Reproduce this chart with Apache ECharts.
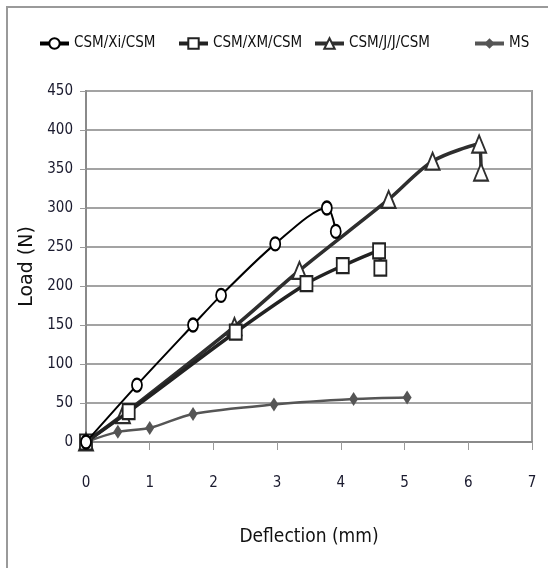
<!DOCTYPE html>
<html>
<head>
<meta charset="utf-8">
<script src="https://cdn.jsdelivr.net/npm/echarts@6/dist/echarts.min.js"></script>
<style>
  html, body { margin: 0; padding: 0; background: #fff; }
  #chart { width: 548px; height: 568px; }
</style>
</head>
<body>
<div id="chart"></div>
<script>
// deflection (mm), load (N)
const xiData = [[0, 0], [0.8, 73], [1.68, 150], [2.12, 188], [2.97, 254], [3.78, 300], [3.92, 270]]
const xmData = [[0, 0], [0.67, 39], [2.35, 141], [3.46, 203], [4.03, 226], [4.6, 245], [4.62, 223]]
const jjData = [[0, 0], [0.58, 35], [2.33, 148], [3.35, 220], [4.75, 311], [5.44, 360], [6.17, 382], [6.2, 346]]
const msData = [[0, 0], [0.5, 13], [1.0, 18], [1.68, 36], [2.95, 48], [4.2, 55], [5.04, 57]]
const seriesNames = ['CSM/Xi/CSM', 'CSM/XM/CSM', 'CSM/J/J/CSM', 'MS']
const legendLeft = [38, 177, 313, 473]

const narrow = "'DejaVu Sans Condensed', 'Liberation Sans Narrow', 'Liberation Sans', sans-serif"
const chart = echarts.init(document.getElementById('chart'))

const legends = seriesNames.map((name, i) => ({
  data: [name],
  top: 36,
  left: legendLeft[i],
  padding: 0,
  itemWidth: 29,
  itemHeight: 13,
  itemGap: 0,
  lineStyle: { width: 4 },
  textStyle: { fontFamily: narrow, fontSize: 15, color: '#111' }
}))

const option = {
  animation: false,
  backgroundColor: '#fff',
  graphic: [
    {
      type: 'rect',
      shape: { x: 7, y: 7, width: 600, height: 600 },
      style: { fill: 'none', stroke: '#9a9a9a', lineWidth: 2 },
      silent: true
    }
  ],
  legend: legends,
  grid: {
    left: 86,
    right: 16,
    top: 91,
    bottom: 126,
    show: true,
    borderColor: '#9a9a9a',
    borderWidth: 2
  },
  xAxis: {
    type: 'value',
    min: 0,
    max: 7,
    interval: 1,
    name: 'Deflection (mm)',
    nameLocation: 'middle',
    nameGap: 86,
    nameTextStyle: { fontFamily: narrow, fontSize: 19, color: '#111' },
    axisLine: { show: true, lineStyle: { color: '#8a8a8a', width: 2 } },
    axisTick: { show: true, length: 8, lineStyle: { color: '#9a9a9a', width: 1 } },
    axisLabel: { fontFamily: narrow, fontSize: 15, color: '#1a1a2e', margin: 34 },
    splitLine: { show: false }
  },
  yAxis: {
    type: 'value',
    min: 0,
    max: 450,
    interval: 50,
    name: 'Load (N)',
    nameLocation: 'middle',
    nameGap: 48,
    nameTextStyle: { fontFamily: 'DejaVu Sans, Verdana, sans-serif', fontSize: 19, color: '#111' },
    axisLine: { show: true, lineStyle: { color: '#8a8a8a', width: 2 } },
    axisTick: { show: true, length: 6, lineStyle: { color: '#9a9a9a', width: 1 } },
    axisLabel: { fontFamily: narrow, fontSize: 15, color: '#1a1a2e', margin: 13 },
    splitLine: { lineStyle: { color: '#a3a3a3', width: 2 } }
  },
  series: [
    {
      name: 'CSM/Xi/CSM',
      type: 'line',
      data: xiData,
      smooth: 0.3,
      symbol: 'emptyCircle',
      symbolSize: [10, 13],
      z: 5,
      lineStyle: { color: '#000', width: 2 },
      itemStyle: { color: '#000', borderColor: '#000', borderWidth: 2.5 }
    },
    {
      name: 'CSM/XM/CSM',
      type: 'line',
      data: xmData,
      smooth: 0.3,
      symbol: 'emptyRect',
      symbolSize: [12, 15],
      z: 4,
      lineStyle: { color: '#222', width: 3.5 },
      itemStyle: { color: '#222', borderColor: '#222', borderWidth: 3 }
    },
    {
      name: 'CSM/J/J/CSM',
      type: 'line',
      data: jjData,
      smooth: 0.3,
      symbol: 'emptyTriangle',
      symbolSize: [14, 17],
      z: 3,
      lineStyle: { color: '#2e2e2e', width: 3.5 },
      itemStyle: { color: '#2e2e2e', borderColor: '#2e2e2e', borderWidth: 2.5 }
    },
    {
      name: 'MS',
      type: 'line',
      data: msData,
      smooth: 0.3,
      symbol: 'diamond',
      symbolSize: [9, 14],
      z: 2,
      lineStyle: { color: '#555', width: 2.5 },
      itemStyle: { color: '#555' }
    }
  ]
}

chart.setOption(option)
</script>
</body>
</html>
